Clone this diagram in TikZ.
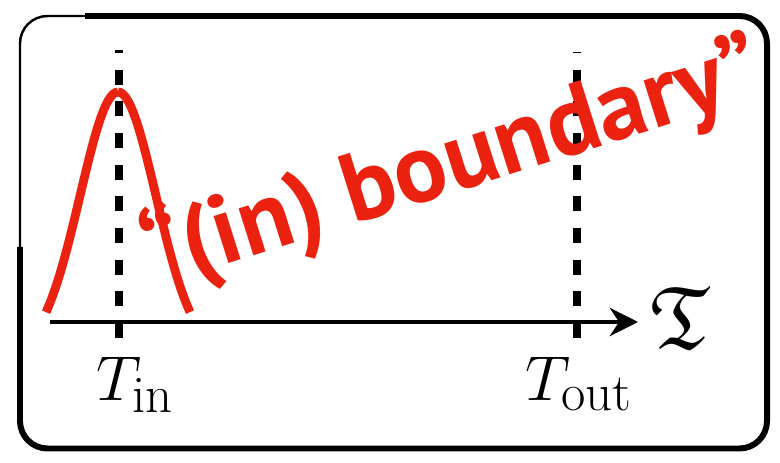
\documentclass[tikz,border=0pt]{standalone}
\usepackage{amssymb}
\usepackage{fontspec}
\newfontfamily\boundfont{PT Sans}
\usetikzlibrary{arrows.meta, positioning, calc}
\definecolor{boundred}{RGB}{236,34,16}
\tikzstyle{axis} = [line width=2.8pt, -{Stealth[length=16pt, width=16pt]}]
\tikzstyle{timeline} = [line width=4.4pt, dash pattern=on 0.3cm off 0.333cm]

\begin{document}
\begin{tikzpicture}[
    x=1cm, y=1cm,
    mathlabel/.style={font=\Huge, scale=1.45, transform shape, inner sep=0pt},
    gauss/.style={boundred, line width=5pt},
  ]
    \useasboundingbox (0,0) rectangle (15.6,9.24);

    % Frame
    \draw[line width=3.4pt, rounded corners=0.55cm] (1.7,8.92) -- (15.34,8.92) -- (15.34,0.27) -- (0.4,0.27) -- (0.4,4.3);
    \draw[line width=1.4pt, rounded corners=0.55cm] (0.4,4.3) -- (0.4,8.92) -- (1.8,8.92);

    % Time axis
    \coordinate (axisstart) at (1.0,2.8);
    \coordinate (axisend) at (12.76,2.8);
    \draw[axis] (axisstart) -- (axisend);
    \node[mathlabel, scale=1.4, anchor=west] (calT) at ($(axisend)+(0.24,0.08)$) {$\mathfrak{T}$};

    % Dashed markers
    \coordinate (tinbot) at (2.38,2.48);
    \coordinate (tintop) at (2.38,8.24);
    \coordinate (toutbot) at (11.54,2.48);
    \coordinate (touttop) at (11.54,8.2);
    \draw[timeline] (tinbot) -- (tintop);
    \draw[timeline] (toutbot) -- (touttop);
    \node[mathlabel, anchor=base] (tin) at (2.7,1.24) {$T_{\mathrm{in}}$};
    \node[mathlabel, anchor=base] (tout) at (11.58,1.24) {$T_{\mathrm{out}}$};

    % Gaussian bump at T_in
    \draw[gauss] plot[domain=-1.44:0, samples=31] ({2.36+\x},{2.12+5.28*exp(-\x*\x/1.155)});
    \draw[gauss] plot[domain=0:1.44, samples=31] ({2.36+\x},{2.12+5.28*exp(-\x*\x/1.155)});

    \node[boundred, rotate=17.5, inner sep=0pt, font=\boundfont\bfseries\fontsize{56}{60}\selectfont] (boundlabel) at (9.06,5.98) {“(in) boundary”};
\end{tikzpicture}
\end{document}
